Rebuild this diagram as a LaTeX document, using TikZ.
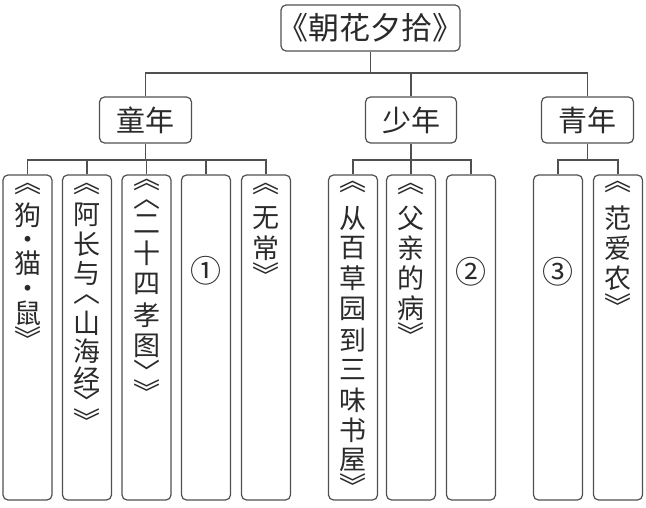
\documentclass[tikz,border=0pt]{standalone}
\usepackage{fontspec}
\newfontfamily\cjk{Noto Sans CJK SC}
\definecolor{ln}{HTML}{505050}
\definecolor{tx}{HTML}{2A2A2A}
\newcommand\colstack[3]{\foreach \yy/\gg [count=\k] in {#3}{\node[vt] (#1-\k) at (#2,\yy) {\gg};}}
\begin{document}
\begin{tikzpicture}[x=1pt,y=-1pt,
  box/.style={draw=ln, line width=1.2pt, rounded corners=5pt, inner sep=0pt},
  leaf/.style={box, minimum width=49pt, minimum height=325pt},
  agebox/.style={box, minimum width=92pt, minimum height=46pt, text=tx, font=\cjk\fontsize{29}{30}\selectfont},
  vt/.style={inner sep=0pt, text=tx, font=\cjk\fontsize{27}{30}\selectfont},
  circ/.style={vt, font=\cjk\fontsize{31}{31}\selectfont},
  conn/.style={draw=ln, line width=1.2pt}]
\useasboundingbox (0,0) rectangle (646,508);
% root and age nodes
\node[box, minimum width=179pt, minimum height=46pt, text=tx, font=\cjk\fontsize{31}{32}\selectfont] (root) at (370.5,28) {\kern-5pt《朝花夕拾》\kern-5pt};
\node[agebox] (tong) at (145.5,120) {童年};
\node[agebox, minimum width=91pt] (shao) at (411,120) {少年};
\node[agebox] (qing) at (587.5,120) {青年};
% leaves
\node[leaf] (l1) at (27.5,337.5) {};
\node[leaf] (l2) at (87,337.5) {};
\node[leaf] (l3) at (146.5,337.5) {};
\node[leaf] (l4) at (206,337.5) {};
\node[leaf] (l5) at (266,337.5) {};
\node[leaf] (l6) at (353,337.5) {};
\node[leaf] (l7) at (411,337.5) {};
\node[leaf] (l8) at (471,337.5) {};
\node[leaf] (l9) at (558,337.5) {};
\node[leaf] (l10) at (618,337.5) {};
% junctions
\coordinate (j0) at (370.5,73);
\coordinate (j1) at (145.5,160);
\coordinate (j2) at (411,160);
\coordinate (j3) at (587.5,160);
% connectors
\draw[conn] (root) -- (j0);
\draw[conn] (tong.north) |- (j0) -| (qing.north);
\draw[conn] (shao.north) -- (shao.north |- j0);
\draw[conn] (tong) -- (j1);
\draw[conn] (l1.north) |- (j1) -| (l5.north);
\draw[conn] (l2.north) -- (l2.north |- j1);
\draw[conn] (l3.north) -- (l3.north |- j1);
\draw[conn] (l4.north) -- (l4.north |- j1);
\draw[conn] (shao) -- (j2);
\draw[conn] (l6.north) |- (j2) -| (l8.north);
\draw[conn] (l7.north) -- (l7.north |- j2);
\draw[conn] (qing) -- (j3);
\draw[conn] (l9.north) |- (j3) -| (l10.north);
% vertical texts
\colstack{t1}{27.5}{189/︽,215/狗,243/·,263/猫,292/·,313/鼠,338/︾}
\colstack{t2}{87}{189/︽,215/阿,244/长,273/与,299/︿,323/山,351/海,379/经,401/﹀,420/︾}
\colstack{t3}{146.5}{185/︽,204/︿,224/二,253/十,284/四,315/孝,346/图,371/﹀,391/︾}
\colstack{t5}{266}{189/︽,218/无,248/常,274/︾}
\colstack{t6}{353}{187/︽,218/从,248/百,278/草,309/园,340/到,370/三,400/味,430/书,460/屋,485/︾}
\colstack{t7}{411}{189/︽,218/父,248/亲,278/的,308/病,334/︾}
\colstack{t10}{618}{187/︽,218/范,248/爱,278/农,305/︾}
\node[circ] (n1) at (206,271) {①};
\node[circ] (n2) at (471,272) {②};
\node[circ] (n3) at (558,272) {③};
\end{tikzpicture}
\end{document}
